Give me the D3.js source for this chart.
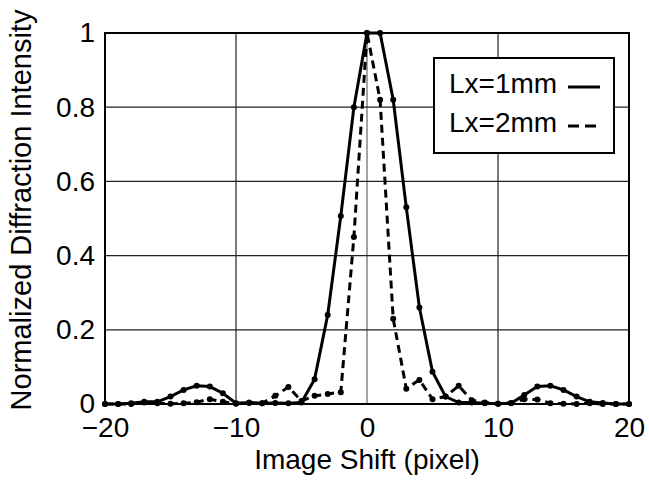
<!DOCTYPE html>
<html>
<head>
<meta charset="utf-8">
<script src="https://cdn.jsdelivr.net/npm/d3@7"></script>
<style>
  body { margin: 0; background: #fff; }
  text { font-family: "Liberation Sans", Arial, sans-serif; fill: #000; }
</style>
</head>
<body>
<div id="chart"></div>
<script>
// image shift in pixels
var shiftX = [-20, -19, -18, -17, -16, -15, -14, -13, -12, -11, -10, -9, -8, -7, -6, -5, -4, -3, -2, -1,
  0, 1, 2, 3, 4, 5, 6, 7, 8, 9, 10, 11, 12, 13, 14, 15, 16, 17, 18, 19, 20];

// Lx=1mm (solid)
var lx1mm = [0, 0, 0.002, 0.006, 0.006, 0.02, 0.038, 0.049, 0.047, 0.029, 0.002, 0.004, 0.002, 0.003, 0.002, 0.004, 0.067, 0.24, 0.507, 0.80,
  1, 1, 0.82, 0.53, 0.26, 0.087, 0.02, 0.004, 0.004, 0.002, 0.001, 0.002, 0.024, 0.047, 0.049, 0.038, 0.02, 0.006, 0.003, 0, 0];

// Lx=2mm (dashed)
var lx2mm = [0, 0, 0, 0.004, 0.002, 0.001, 0.002, 0.005, 0.013, 0.006, 0.001, 0.003, 0.002, 0.022, 0.046, 0.008, 0.022, 0.027, 0.032, 0.45,
  1, 0.82, 0.23, 0.041, 0.065, 0.013, 0.02, 0.049, 0.01, 0.004, 0.001, 0.003, 0.013, 0.012, 0.002, 0.001, 0, 0.002, 0, 0, 0];

var xTicks = [-20, -10, 0, 10, 20];
var yTicks = [0, 0.2, 0.4, 0.6, 0.8, 1];
var yTickLabels = ["0", "0.2", "0.4", "0.6", "0.8", "1"];
var seriesNames = ["Lx=1mm", "Lx=2mm"];

var svgWidth = 649, svgHeight = 483;
var margin = {top: 33, right: 20, bottom: 79, left: 105};
var chartWidth = svgWidth - margin.left - margin.right;
var chartHeight = svgHeight - margin.top - margin.bottom;

var svg = d3.select("#chart").append("svg")
  .attr("width", svgWidth)
  .attr("height", svgHeight);

var chartGroup = svg.append("g")
  .attr("transform", `translate(${margin.left}, ${margin.top})`);

var xScale = d3.scaleLinear().domain([-20, 20]).range([0, chartWidth]);
var yScale = d3.scaleLinear().domain([0, 1]).range([chartHeight, 0]);

// grid lines
chartGroup.append("g")
  .selectAll("line")
  .data(xTicks.slice(1, -1))
  .enter()
  .append("line")
  .attr("x1", d => xScale(d)).attr("x2", d => xScale(d))
  .attr("y1", 0).attr("y2", chartHeight)
  .attr("stroke", d => d === 0 ? "#666" : "#222")
  .attr("stroke-width", 1.2);

chartGroup.append("g")
  .selectAll("line")
  .data(yTicks.slice(1, -1))
  .enter()
  .append("line")
  .attr("x1", 0).attr("x2", chartWidth)
  .attr("y1", d => yScale(d)).attr("y2", d => yScale(d))
  .attr("stroke", "#222")
  .attr("stroke-width", 1.2);

// axes (labels only, ticks drawn as grid)
var xAxis = d3.axisBottom(xScale).tickValues(xTicks).tickSize(0).tickPadding(13);
var yAxis = d3.axisLeft(yScale).tickValues(yTicks).tickSize(0).tickPadding(10)
  .tickFormat((d, i) => yTickLabels[i]);

var gx = chartGroup.append("g")
  .attr("transform", `translate(0, ${chartHeight})`)
  .call(xAxis);
var gy = chartGroup.append("g").call(yAxis);

[gx, gy].forEach(g => {
  g.select(".domain").remove();
  g.selectAll("text")
    .style("font-family", "'Liberation Sans', Arial, sans-serif")
    .style("font-size", "28px")
    .attr("fill", "#000");
});

// frame
chartGroup.append("rect")
  .attr("x", 0).attr("y", 0)
  .attr("width", chartWidth).attr("height", chartHeight)
  .attr("fill", "none")
  .attr("stroke", "#000")
  .attr("stroke-width", 2);

// series
var line = d3.line()
  .x((d, i) => xScale(shiftX[i]))
  .y(d => yScale(d));

var series = [
  {name: seriesNames[0], values: lx1mm, dash: null},
  {name: seriesNames[1], values: lx2mm, dash: "8,5"}
];

series.forEach(s => {
  chartGroup.append("path")
    .datum(s.values)
    .attr("d", line)
    .attr("fill", "none")
    .attr("stroke", "#000")
    .attr("stroke-width", 3)
    .attr("stroke-dasharray", s.dash);

  chartGroup.append("g")
    .selectAll("circle")
    .data(s.values)
    .enter()
    .append("circle")
    .attr("cx", (d, i) => xScale(shiftX[i]))
    .attr("cy", d => yScale(d))
    .attr("r", 3)
    .attr("fill", "#000");
});

// legend
var legend = svg.append("g").attr("transform", "translate(434, 58)");
legend.append("rect")
  .attr("width", 180).attr("height", 95)
  .attr("fill", "#fff")
  .attr("stroke", "#000")
  .attr("stroke-width", 2);

series.forEach((s, i) => {
  var yy = 35 + i * 39;
  legend.append("text")
    .attr("x", 15).attr("y", yy)
    .style("font-size", "28px")
    .text(s.name);
  legend.append("line")
    .attr("x1", 134).attr("x2", 166)
    .attr("y1", yy - 6).attr("y2", yy - 6)
    .attr("stroke", "#000")
    .attr("stroke-width", 3)
    .attr("stroke-dasharray", s.dash ? "11,6" : null);
});

// axis titles
svg.append("text")
  .attr("x", margin.left + chartWidth / 2)
  .attr("y", 469)
  .attr("text-anchor", "middle")
  .style("font-size", "28px")
  .text("Image Shift (pixel)");

svg.append("text")
  .attr("transform", "translate(31, 210) rotate(-90)")
  .attr("text-anchor", "middle")
  .style("font-size", "29px")
  .text("Normalized Diffraction Intensity");
</script>
</body>
</html>
